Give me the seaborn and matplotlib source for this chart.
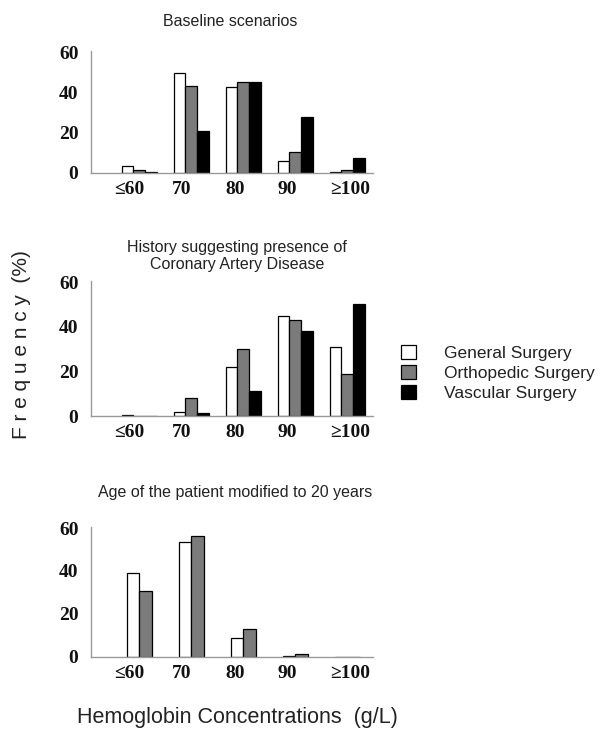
import matplotlib
matplotlib.use("Agg")
import matplotlib.pyplot as plt
import matplotlib.transforms as mtransforms
import pandas as pd
import seaborn as sns

sns.set_theme(style="white")

# hemoglobin categories (g/L)
categories = ["≤60", "70", "80", "90", "≥100"]
series = ["General Surgery", "Orthopedic Surgery", "Vascular Surgery"]

# frequencies (%)
baseline_general = [3.3, 49.6, 42.4, 6.0, 0.7]
baseline_ortho = [1.3, 42.9, 44.9, 10.6, 1.3]
baseline_vascular = [0.7, 20.9, 44.9, 27.7, 7.2]

cad_general = [0.6, 1.8, 21.8, 44.7, 30.8]
cad_ortho = [0.0, 8.0, 30.1, 43.1, 18.8]
cad_vascular = [0.0, 1.2, 11.4, 37.9, 50.2]

age_general = [39.0, 53.6, 8.7, 0.5, 0.0]
age_ortho = [30.8, 56.5, 13.0, 1.2, 0.0]

titles = ["Baseline scenarios",
          "History suggesting presence of\nCoronary Artery Disease",
          "Age of the patient modified to 20 years"]

colors = {"General Surgery": "white",
          "Orthopedic Surgery": "#7b7b7b",
          "Vascular Surgery": "black"}


def long_df(values_by_series):
    rows = []
    for name, vals in values_by_series.items():
        for cat, v in zip(categories, vals):
            rows.append({"Hb": cat, "Surgery": name, "Freq": v})
    return pd.DataFrame(rows)


panels = [
    long_df({"General Surgery": baseline_general,
             "Orthopedic Surgery": baseline_ortho,
             "Vascular Surgery": baseline_vascular}),
    long_df({"General Surgery": cad_general,
             "Orthopedic Surgery": cad_ortho,
             "Vascular Surgery": cad_vascular}),
    long_df({"General Surgery": age_general,
             "Orthopedic Surgery": age_ortho}),
]

fig = plt.figure(figsize=(6.1, 7.38), dpi=100)

# axes boxes in figure fraction [left, bottom, width, height]
boxes = [[0.149, 0.7656, 0.462, 0.1653],
         [0.149, 0.4363, 0.462, 0.1830],
         [0.149, 0.1098, 0.462, 0.1762]]
title_y = [1 - 21 / 738, 1 - 256 / 738, 1 - 492 / 738]
title_x = [230 / 610, 237 / 610, 235 / 610]
widths = [0.675, 0.675, 0.48]
# small horizontal nudges of the category labels (points)
label_shift = [-7, -7, -6, -6, 2]

axes = []
for i, df in enumerate(panels):
    ax = fig.add_axes(boxes[i])
    order = [s for s in series if s in df["Surgery"].unique()]
    sns.barplot(data=df, x="Hb", y="Freq", hue="Surgery",
                order=categories, hue_order=order,
                palette=[colors[s] for s in order],
                width=widths[i], edgecolor="black", linewidth=0.9,
                saturation=1, ax=ax, legend=(i == 0))
    ax.set_xlim(-0.93, 4.49)
    ax.set_ylim(0, 60.5)
    ax.set_yticks([0, 20, 40, 60])
    ax.set_xlabel("")
    ax.set_ylabel("")
    ax.tick_params(axis="both", length=0)
    ax.tick_params(axis="y", pad=9)
    ax.tick_params(axis="x", pad=6)
    for lab in ax.get_xticklabels() + ax.get_yticklabels():
        lab.set_fontfamily("Liberation Serif")
        lab.set_fontweight("bold")
        lab.set_fontsize(14)
        lab.set_color("#111111")
    for lab, dx in zip(ax.get_xticklabels(), label_shift):
        off = mtransforms.ScaledTranslation(dx / 72, 0, fig.dpi_scale_trans)
        lab.set_transform(lab.get_transform() + off)
    for side in ["top", "right"]:
        ax.spines[side].set_visible(False)
    for side in ["left", "bottom"]:
        ax.spines[side].set_color("#9a9a9a")
        ax.spines[side].set_linewidth(1.0)
    fig.text(title_x[i], title_y[i], titles[i], ha="center", va="center",
             fontsize=11.5, family="Liberation Sans", color="#222222",
             linespacing=1.1)
    axes.append(ax)

handles, labels = axes[0].get_legend_handles_labels()
axes[0].get_legend().remove()
for h in handles:
    h.set_edgecolor("black")
    h.set_linewidth(0.9)
fig.legend(handles, labels, loc="center left",
           bbox_to_anchor=(396 / 610, 1 - 373 / 738), frameon=False,
           borderaxespad=0, borderpad=0.3,
           prop={"family": "Liberation Sans", "size": 12.5},
           handlelength=0.85, handleheight=0.85, handletextpad=1.6,
           labelspacing=0.22, labelcolor="#222222")

fig.text(22 / 610, 1 - 345 / 738, "F r e q u e n c y  (%)", rotation=90,
         ha="center", va="center", fontsize=15, family="Liberation Sans",
         color="#222222")
fig.text(237 / 610, 1 - 717 / 738, "Hemoglobin Concentrations  (g/L)",
         ha="center", va="center", fontsize=15.5, family="Liberation Sans",
         color="#222222")

fig.savefig("out.png", dpi=100)
